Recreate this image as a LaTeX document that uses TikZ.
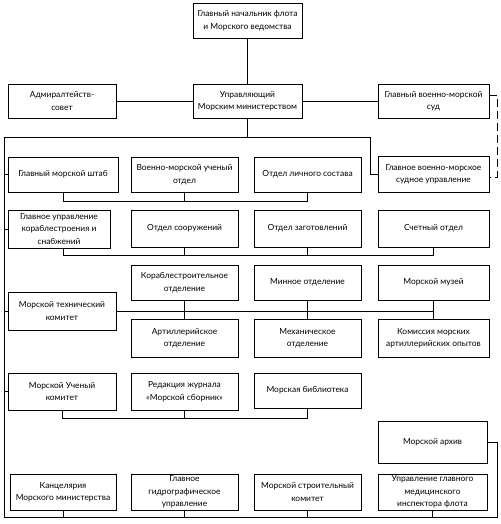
\documentclass[tikz,border=0pt]{standalone}
\usepackage{fontspec}
\setmainfont{Lato}
\begin{document}
\begin{tikzpicture}[x=1pt,y=-1pt,
  box/.style={draw,line width=0.9pt,align=center,inner sep=1pt,font=\fontsize{8.4}{12.5}\selectfont},
  conn/.style={line width=0.9pt}]
\useasboundingbox (0,0) rectangle (500,524);
\fill[white] (0,0) rectangle (500,524);
\newcommand{\bx}[7]{\node[box,minimum width={#4-#3},minimum height={#6-#5}] (#1) at ({(#3+#4)/2},{(#5+#6)/2}) {#7};}
% top
\bx{top}{}{193}{302}{3}{38}{Главный начальник флота\\и Морского ведомства}
\bx{adm}{}{8}{116}{84}{118}{Адмиралтейств-\\совет}
\bx{upr}{}{193}{302}{84}{118}{Управляющий\\Морским министерством}
\bx{sud}{}{378}{489}{84}{118}{Главный военно-морской\\суд}
% row 1
\bx{ra1}{}{8}{118}{157}{192}{Главный морской штаб}
\bx{ra2}{}{131}{238}{157}{192}{Военно-морской ученый\\отдел}
\bx{ra3}{}{254}{361}{157}{192}{Отдел личного состава}
\bx{ra4}{}{378}{489}{156}{192}{Главное военно-морское\\судное управление}
% row 2
\bx{rb1}{}{8}{110}{210}{248}{Главное управление\\кораблестроения и\\снабжений}
\bx{rb2}{}{131}{238}{210}{247}{Отдел сооружений}
\bx{rb3}{}{254}{361}{210}{247}{Отдел заготовлений}
\bx{rb4}{}{378}{489}{210}{247}{Счетный отдел}
% row 3
\bx{rc2}{}{131}{238}{265}{300}{Кораблестроительное\\отделение}
\bx{rc3}{}{254}{361}{265}{300}{Минное отделение}
\bx{rc4}{}{378}{489}{265}{300}{Морской музей}
\bx{mtk}{}{8}{116}{292}{330}{Морской технический\\комитет}
\bx{rd2}{}{131}{238}{319}{357}{Артиллерийское\\отделение}
\bx{rd3}{}{254}{361}{319}{357}{Механическое\\отделение}
\bx{rd4}{}{378}{489}{319}{357}{Комиссия морских\\артиллерийских опытов}
% row 4
\bx{re1}{}{8}{116}{373}{410}{Морской Ученый\\комитет}
\bx{re2}{}{131}{238}{373}{410}{Редакция журнала\\«Морской сборник»}
\bx{re3}{}{254}{361}{373}{408}{Морская библиотека}
\bx{arch}{}{378}{487}{421}{463}{Морской архив}
% row 5
\bx{rf1}{}{10}{116}{474}{510}{Канцелярия\\Морского министерства}
\bx{rf2}{}{131}{238}{474}{510}{Главное\\гидрографическое\\управление}
\bx{rf3}{}{254}{361}{474}{510}{Морской строительный\\комитет}
\bx{rf4}{}{378}{487}{474}{510}{Управление главного\\медицинского\\инспектора флота}
% bus coordinates
\coordinate (TL) at (4,137);
\coordinate (TR) at (370,137);
\coordinate (BL) at (4,517);
\coordinate (BR) at (497,517);
\coordinate (b1) at (0,201);
\coordinate (b2) at (0,255);
\coordinate (b4) at (0,418);
% connectors
\draw[conn] (top) -- (upr);
\draw[conn] (adm) -- (upr);
\draw[conn] (upr) -- (sud);
\draw[conn,dash pattern=on 8pt off 4pt] ([yshift=6pt]sud.east) -- ++(8,0) |- ([yshift=-3pt]ra4.east);
\draw[conn] (upr.south) -- (upr.south |- TL);
\draw[conn] (BL) -- (TL) -- (TR) |- (ra4.west);
\draw[conn] (BL) -- (BR) |- (arch.east);
\foreach \n in {ra1,rb1,mtk,re1} \draw[conn] (TL |- \n.west) -- (\n.west);
% row 1
\draw[conn] (ra1.south) -- (ra1.south |- b1) -- (ra3.south |- b1) -- (ra3.south);
\draw[conn] (ra2.south) -- (ra2.south |- b1);
% row 2
\draw[conn] (rb1.south -| ra1.south) -- (ra1.south |- b2) -- (rb4.south |- b2) -- (rb4.south);
\draw[conn] (rb2.south) -- (rb2.south |- b2);
\draw[conn] (rb3.south) -- (rb3.south |- b2);
% row 3
\draw[conn] (mtk.east) -- (mtk.east -| rc4.south);
\draw[conn] (rc2.south) -- (rd2.north);
\draw[conn] (rc3.south) -- (rd3.north);
\draw[conn] (rc4.south) -- (rd4.north);
% row 4
\draw[conn] (re1.south) -- (re1.south |- b4) -- (re3.south |- b4) -- (re3.south);
\draw[conn] (re2.south) -- (re2.south |- b4);
% row 5
\foreach \n in {rf1,rf2,rf3,rf4} \draw[conn] (\n.south) -- (\n.south |- BL);
\end{tikzpicture}
\end{document}
